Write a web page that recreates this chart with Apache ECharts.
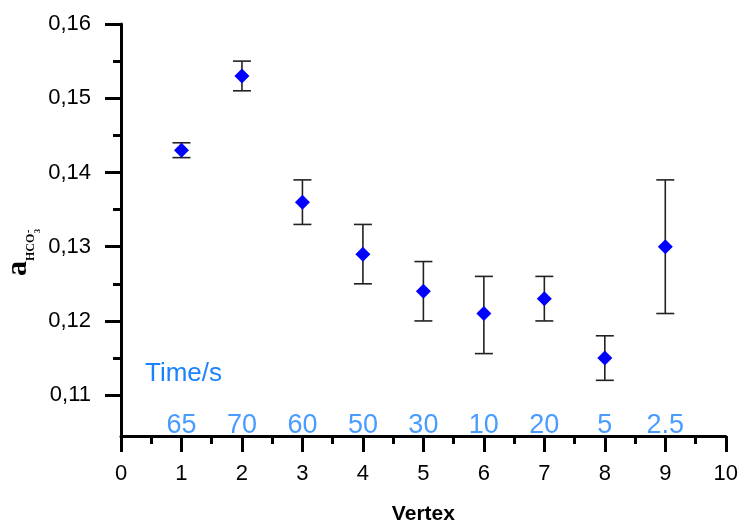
<!DOCTYPE html>
<html>
<head>
<meta charset="utf-8">
<script src="https://cdn.jsdelivr.net/npm/echarts@6/dist/echarts.min.js"></script>
<style>
  html, body { margin: 0; padding: 0; background: #fff; }
  #chart { width: 741px; height: 530px; }
</style>
</head>
<body>
<div id="chart"></div>
<script>
// vertex number on x, activity a(HCO3-) on y
var vertex = [1, 2, 3, 4, 5, 6, 7, 8, 9];
var activity = [0.143, 0.153, 0.136, 0.129, 0.124, 0.121, 0.123, 0.115, 0.130];
var errLow = [0.142, 0.151, 0.133, 0.125, 0.120, 0.1156, 0.120, 0.112, 0.121];
var errHigh = [0.144, 0.155, 0.139, 0.133, 0.128, 0.126, 0.126, 0.118, 0.139];
var timeLabels = ['65', '70', '60', '50', '30', '10', '20', '5', '2.5'];
var yTicks = [0.11, 0.12, 0.13, 0.14, 0.15, 0.16];
var yMinorTicks = [0.115, 0.125, 0.135, 0.145, 0.155];

var TIME_ROW = 0.1059; // y level of the blue time row
var blue = '#1a82ff';
var serif = 'Liberation Serif';

var points = vertex.map(function (x, i) { return [x, activity[i]]; });
var bars = vertex.map(function (x, i) { return [x, errLow[i], errHigh[i]]; });
var timeRow = vertex.map(function (x, i) { return [x, TIME_ROW]; });

var chart = echarts.init(document.getElementById('chart'));

var option = {
  backgroundColor: '#fff',
  animation: false,
  grid: { left: 121, right: 14, top: 24, bottom: 89 },
  xAxis: {
    type: 'value',
    min: 0, max: 10, interval: 1,
    name: 'Vertex',
    nameLocation: 'middle',
    nameGap: 68,
    nameTextStyle: { fontFamily: 'Liberation Sans', fontSize: 21, fontWeight: 'bold', color: '#000' },
    axisLine: { show: true, lineStyle: { color: '#000', width: 3 } },
    axisTick: { show: true, inside: false, length: 16, lineStyle: { color: '#000', width: 3 } },
    minorTick: { show: true, splitNumber: 2, length: 8, lineStyle: { color: '#000', width: 3 } },
    axisLabel: { margin: 27, fontFamily: 'Liberation Sans', fontSize: 22, color: '#000' },
    splitLine: { show: false }
  },
  yAxis: [{
    type: 'value',
    min: 0.1045, max: 0.16,
    axisLine: { show: true, lineStyle: { color: '#000', width: 3 } },
    axisTick: { show: true, inside: false, length: 16, customValues: yTicks, lineStyle: { color: '#000', width: 3 } },
    axisLabel: {
      margin: 30, fontFamily: 'Liberation Sans', fontSize: 22, color: '#000',
      customValues: yTicks,
      formatter: function (v) { return v.toFixed(2).replace('.', ','); }
    },
    splitLine: { show: false }
  }, {
    type: 'value',
    min: 0.1045, max: 0.16,
    position: 'left',
    axisLine: { show: false },
    axisTick: { show: true, inside: false, length: 8, customValues: yMinorTicks, lineStyle: { color: '#000', width: 3 } },
    axisLabel: { show: false },
    splitLine: { show: false }
  }],
  graphic: [{
    // y axis title a_HCO3^- , rotated to read bottom-to-top
    type: 'group',
    x: 31, y: 277,
    rotation: Math.PI / 2,
    children: [
      { type: 'text', x: 1, y: -12.5, style: { text: 'a', fontFamily: serif, fontWeight: 'bold', fontSize: 30, fill: '#000', verticalAlign: 'middle' } },
      { type: 'text', x: 16, y: 0, style: { text: 'HCO', fontFamily: serif, fontWeight: 'bold', fontSize: 12, fill: '#000', verticalAlign: 'middle' } },
      { type: 'text', x: 44, y: 7, style: { text: '3', fontFamily: serif, fontWeight: 'bold', fontSize: 8, fill: '#000', verticalAlign: 'middle' } },
      { type: 'text', x: 44, y: -3, style: { text: '-', fontFamily: serif, fontWeight: 'bold', fontSize: 10, fill: '#000', verticalAlign: 'middle' } }
    ]
  }, {
    type: 'text',
    left: 145, top: 361,
    style: { text: 'Time/s', fontFamily: 'Liberation Sans', fontSize: 26, fill: blue }
  }],
  series: [{
    type: 'custom',
    name: 'error',
    data: bars,
    z: 2,
    renderItem: function (params, api) {
      var x = api.value(0);
      var lo = api.coord([x, api.value(1)]);
      var hi = api.coord([x, api.value(2)]);
      var half = 9;
      var st = { stroke: '#222', lineWidth: 1.6 };
      return {
        type: 'group',
        children: [
          { type: 'line', shape: { x1: lo[0], y1: lo[1], x2: hi[0], y2: hi[1] }, style: st },
          { type: 'line', shape: { x1: lo[0] - half, y1: lo[1], x2: lo[0] + half, y2: lo[1] }, style: st },
          { type: 'line', shape: { x1: hi[0] - half, y1: hi[1], x2: hi[0] + half, y2: hi[1] }, style: st }
        ]
      };
    }
  }, {
    type: 'scatter',
    name: 'activity',
    data: points,
    symbol: 'diamond',
    symbolSize: 15,
    itemStyle: { color: '#0000ff', opacity: 1 },
    z: 3
  }, {
    type: 'scatter',
    name: 'time',
    data: timeRow,
    symbolSize: 0,
    silent: true,
    label: {
      show: true, position: 'inside',
      fontFamily: 'Liberation Sans', fontSize: 27, color: blue,
      formatter: function (p) { return timeLabels[p.dataIndex]; }
    }
  }]
};

chart.setOption(option);
window.addEventListener('resize', function () { chart.resize(); });
</script>
</body>
</html>
